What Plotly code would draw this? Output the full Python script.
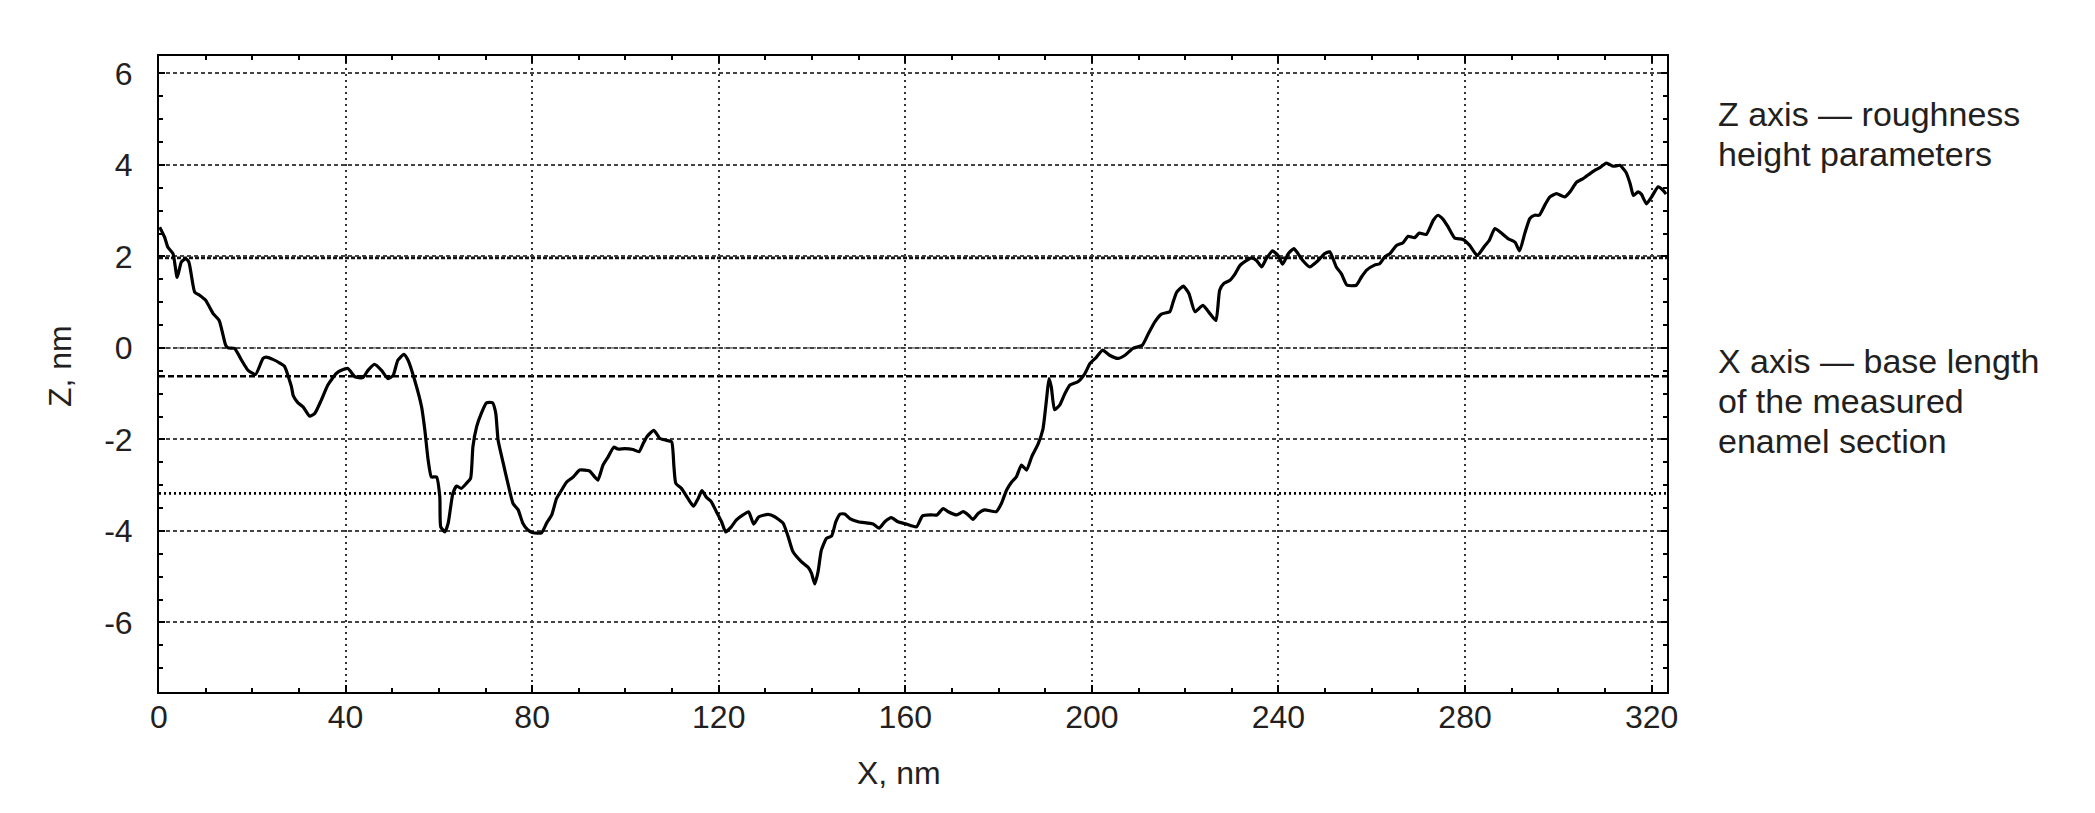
import plotly.graph_objects as go

# ---- data ----
x_nm = [0.15, 1.2, 1.9, 3.0, 3.9, 4.8, 5.7, 6.4, 7.65, 8.7, 10.0, 11.6, 12.9, 14.3, 14.8, 16.2,
        17.7, 19.1, 20.7, 22.3, 23.0, 24.4, 25.9, 26.9, 28.4, 28.8, 29.8, 30.9, 32.3, 33.4, 34.8,
        36.2, 38.0, 39.1, 40.5, 42.0, 43.7, 44.8, 46.2, 47.7, 49.1, 50.2, 51.2, 52.5, 53.4, 54.8,
        56.3, 57.0, 57.7, 58.4, 59.5, 60.2, 60.4, 61.3, 62.0, 63.0, 63.8, 64.8, 65.9, 66.8, 67.3,
        68.1, 69.1, 70.2, 71.5, 72.2, 72.7, 73.8, 74.8, 75.9, 77.0, 78.0, 79.1, 80.2, 82.0, 83.1,
        84.2, 85.2, 86.3, 87.4, 88.8, 90.2, 92.3, 93.4, 94.1, 95.2, 96.3, 97.5, 98.4, 99.8, 101.6,
        102.9, 103.8, 104.6, 106.1, 107.4, 108.8, 109.9, 110.4, 110.8, 112.0, 113.4, 114.6, 115.6,
        116.4, 117.4, 118.4, 119.5, 120.6, 121.5, 122.7, 123.8, 125.2, 126.4, 127.5, 128.6, 130.6,
        132.0, 133.8, 134.9, 135.9, 137.7, 139.2, 139.9, 140.6, 141.3, 142.0, 143.1, 144.2, 145.1,
        146.0, 147.0, 148.1, 149.9, 153.1, 154.4, 155.6, 157.0, 158.4, 160.2, 162.4, 163.7, 165.6,
        166.8, 168.1, 169.2, 171.0, 172.4, 173.5, 174.5, 175.6, 177.0, 179.5, 180.6, 181.7, 182.8,
        183.8, 184.9, 186.0, 187.1, 188.5, 189.5, 190.3, 190.8, 191.3, 192.0, 193.1, 194.2, 195.3,
        197.0, 198.5, 199.6, 201.0, 202.3, 203.8, 205.6, 207.1, 208.8, 210.8, 212.1, 213.5, 214.9,
        216.7, 217.4, 218.2, 219.6, 220.8, 222.1, 223.8, 225.3, 226.6, 227.4, 228.3, 229.6, 230.7,
        231.8, 233.1, 234.2, 235.3, 236.4, 237.4, 238.7, 239.9, 240.9, 242.1, 243.3, 244.2, 245.3,
        246.7, 248.5, 249.9, 251.0, 252.4, 253.5, 254.7, 256.7, 257.8, 258.9, 260.6, 261.7, 262.8,
        263.9, 265.3, 266.7, 267.8, 269.2, 270.2, 271.7, 273.2, 274.2, 275.3, 276.4, 277.8, 279.6,
        281.0, 282.6, 284.3, 285.2, 286.4, 287.8, 289.2, 290.7, 291.7, 292.8, 293.9, 294.9, 295.9,
        297.1, 298.2, 299.6, 301.4, 302.5, 303.9, 305.3, 306.8, 307.8, 308.9, 310.3, 311.8, 313.2,
        314.5, 315.4, 316.1, 317.1, 317.8, 318.9, 320.0, 321.4, 322.5, 323.1]
z_nm = [2.64, 2.42, 2.2, 2.06, 1.54, 1.88, 1.95, 1.88, 1.22, 1.15, 1.04, 0.75, 0.6, 0.06, 0.0, -0.01,
        -0.27, -0.49, -0.58, -0.23, -0.2, -0.25, -0.33, -0.4, -0.85, -1.05, -1.2, -1.29, -1.49, -1.43, -1.14,
        -0.81, -0.56, -0.49, -0.45, -0.63, -0.65, -0.49, -0.36, -0.49, -0.67, -0.6, -0.27, -0.14, -0.27, -0.7,
        -1.29, -1.8, -2.45, -2.82, -2.82, -3.25, -3.91, -4.02, -3.83, -3.18, -3.02, -3.07, -2.96, -2.85, -2.16,
        -1.72, -1.43, -1.2, -1.2, -1.43, -2.02, -2.52, -2.96, -3.4, -3.54, -3.83, -3.98, -4.04, -4.04, -3.83,
        -3.65, -3.3, -3.11, -2.93, -2.82, -2.67, -2.69, -2.82, -2.89, -2.56, -2.38, -2.17, -2.21, -2.2, -2.22,
        -2.27, -2.09, -1.94, -1.8, -1.98, -2.02, -2.05, -2.6, -2.96, -3.07, -3.29, -3.46, -3.29,
        -3.12, -3.27, -3.36, -3.58, -3.8, -4.02, -3.91, -3.76, -3.65, -3.58, -3.85, -3.69, -3.64,
        -3.69, -3.83, -4.13, -4.45, -4.67, -4.8, -4.93, -5.16, -4.89, -4.42, -4.16, -4.11, -3.8,
        -3.63, -3.63, -3.73, -3.8, -3.85, -3.94, -3.8, -3.71, -3.8, -3.85, -3.91, -3.67, -3.65,
        -3.65, -3.51, -3.58, -3.65, -3.58, -3.65, -3.75, -3.62, -3.54, -3.58, -3.4, -3.11, -2.93,
        -2.82, -2.56, -2.67, -2.38, -2.09, -1.78, -1.1, -0.67, -0.85, -1.35, -1.25, -1.0, -0.81,
        -0.74, -0.56, -0.34, -0.2, -0.05, -0.16, -0.23, -0.16, -0.01, 0.06, 0.31, 0.57, 0.74,
        0.79, 1.0, 1.22, 1.35, 1.19, 0.79, 0.93, 0.75, 0.6, 1.26, 1.41, 1.48, 1.62,
        1.81, 1.91, 1.97, 1.91, 1.77, 1.95, 2.12, 2.02, 1.83, 2.06, 2.17, 2.06, 1.9,
        1.77, 1.91, 2.06, 2.1, 1.77, 1.62, 1.37, 1.37, 1.55, 1.7, 1.81, 1.84, 1.99,
        2.06, 2.24, 2.3, 2.44, 2.41, 2.51, 2.48, 2.79, 2.9, 2.81, 2.64, 2.4, 2.37,
        2.24, 2.02, 2.24, 2.35, 2.61, 2.51, 2.39, 2.31, 2.12, 2.5, 2.83, 2.9, 2.9,
        3.12, 3.3, 3.37, 3.3, 3.41, 3.62, 3.7, 3.81, 3.88, 3.94, 4.04, 3.97, 3.99,
        3.84, 3.59, 3.33, 3.41, 3.36, 3.15, 3.3, 3.52, 3.44, 3.36]

x_ticks = [0, 40, 80, 120, 160, 200, 240, 280, 320]
y_ticks = [-6, -4, -2, 0, 2, 4, 6]
y_tick_labels = ["-6", "-4", "-2", "0", "2", "4", "6"]
ref_levels = [1.97, -0.62, -3.18]
note_top_lines = ["Z axis — roughness", "height parameters"]
note_bottom_lines = ["X axis — base length", "of the measured", "enamel section"]

FONT = "Liberation Sans, Arial, Helvetica, sans-serif"
TXT = "#231f20"

# page geometry (the page body adds an 8px offset)
OFF = 8
PL, PR, PT, PB = 159, 1667, 56, 692          # plot area edges in page pixels
W, H = 2095 - OFF, 813 - OFF
PW, PH = PR - PL, PB - PT


def px(xp):
    return (xp - PL) / PW


def py(yp):
    return (PB - yp) / PH


fig = go.Figure()
fig.add_trace(go.Scatter(x=x_nm, y=z_nm, mode="lines",
                         line=dict(color="#000000", width=3.2, shape="spline", smoothing=0.5),
                         showlegend=False, hoverinfo="skip"))

fig.add_hline(y=0, line=dict(color="#8a8a8a", width=1.6, dash="7px,3px,2px,3px"), layer="below")
fig.add_hline(y=ref_levels[0], line=dict(color="#111111", width=2.8, dash="4px,2px"), layer="below")
fig.add_hline(y=ref_levels[1], line=dict(color="#000000", width=2.4, dash="6px,3px"), layer="below")
fig.add_hline(y=ref_levels[2], line=dict(color="#000000", width=2.8, dash="2px,3px"), layer="below")

annotations = [
    dict(text="X, nm", xref="paper", yref="paper", x=px(899), y=py(773),
         xanchor="center", yanchor="middle", showarrow=False, font=dict(size=32, color=TXT)),
    dict(text="Z, nm", xref="paper", yref="paper", x=px(60), y=py(366),
         xanchor="center", yanchor="middle", textangle=-90, showarrow=False, font=dict(size=32, color=TXT)),
]
for i, t in enumerate(note_top_lines):
    annotations.append(dict(text=t, xref="paper", yref="paper", x=px(1716), y=py(114 + 39.5 * i),
                            xanchor="left", yanchor="middle", showarrow=False,
                            font=dict(size=34, color=TXT)))
for i, t in enumerate(note_bottom_lines):
    annotations.append(dict(text=t, xref="paper", yref="paper", x=px(1716), y=py(361 + 40 * i),
                            xanchor="left", yanchor="middle", showarrow=False,
                            font=dict(size=34, color=TXT)))

fig.update_layout(
    width=W, height=H,
    paper_bgcolor="white", plot_bgcolor="white",
    margin=dict(l=PL - OFF, r=W - (PR - OFF), t=PT - OFF, b=H - (PB - OFF)),
    font=dict(family=FONT, color=TXT, size=32),
    xaxis=dict(range=[0, 323.3], tickvals=x_ticks, ticktext=[str(v) for v in x_ticks],
               showgrid=True, gridcolor="#333333", gridwidth=1.5, griddash="2px,4px",
               zeroline=False, showline=True, linecolor="#000000", linewidth=2, mirror="ticks",
               ticks="inside", ticklen=7, tickwidth=2, tickcolor="#000000",
               minor=dict(dtick=10, ticks="inside", ticklen=4, tickwidth=2, tickcolor="#000000", showgrid=False),
               tickfont=dict(size=32, color=TXT), ticklabelstandoff=-4),
    yaxis=dict(range=[-7.52, 6.38], tickvals=y_ticks, ticktext=y_tick_labels,
               showgrid=True, gridcolor="#444444", gridwidth=1.5, griddash="4px,3px",
               zeroline=False, showline=True, linecolor="#000000", linewidth=2, mirror="ticks",
               ticks="inside", ticklen=6, tickwidth=2, tickcolor="#000000",
               minor=dict(dtick=0.5, ticks="inside", ticklen=4, tickwidth=2, tickcolor="#000000", showgrid=False),
               tickfont=dict(size=32, color=TXT), ticklabelstandoff=18),
    annotations=annotations,
)

fig.write_html("out.html")
